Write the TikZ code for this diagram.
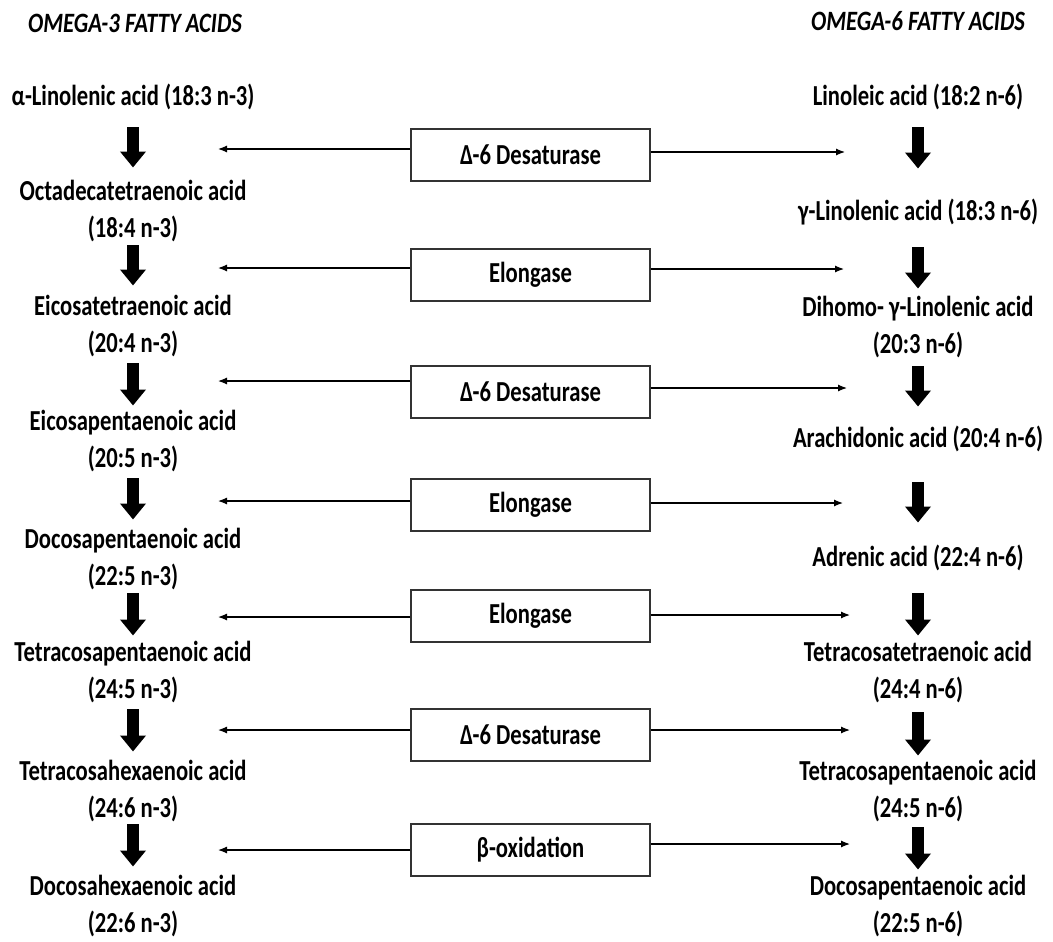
\documentclass[tikz,border=0pt]{standalone}
\usepackage{fontspec}
\setmainfont{Carlito}[FakeStretch=0.78]
\newfontfamily\headfont{Carlito}[FakeStretch=0.81]
\usetikzlibrary{arrows.meta}
\tikzset{
  acid/.style={inner sep=0pt, align=center, font=\fontsize{29}{37}\selectfont\bfseries},
  head/.style={inner sep=0pt, font=\headfont\fontsize{28}{30}\selectfont\bfseries\itshape},
  enzyme/.style={draw=black!80, line width=1.3pt, minimum width=239pt, minimum height=52pt, inner sep=0pt, font=\fontsize{29}{30}\selectfont\bfseries},
  thin/.style={line width=1.2pt, -{Latex[length=9pt,width=7pt]}},
  bigarrow/.style={line width=12pt, -{Triangle[width=25pt,length=16pt]}, shorten >=-0.5pt}
}
\begin{document}
\begin{tikzpicture}[x=1pt,y=-1pt]
\useasboundingbox (0,0) rectangle (1053,942);
% headers
\node[head] (h3) at (135,23) {OMEGA-3 FATTY ACIDS};
\node[head] (h6) at (918,21) {OMEGA-6 FATTY ACIDS};
% omega-3 column
\node[acid] (L0) at (133,97)  {α-Linolenic acid (18:3 n-3)};
\node[acid] (L1) at (133,211) {Octadecatetraenoic acid\\(18:4 n-3)};
\node[acid] (L2) at (133,326) {Eicosatetraenoic acid\\(20:4 n-3)};
\node[acid] (L3) at (133,441) {Eicosapentaenoic acid\\(20:5 n-3)};
\node[acid] (L4) at (133,559) {Docosapentaenoic acid\\(22:5 n-3)};
\node[acid] (L5) at (133,672) {Tetracosapentaenoic acid\\(24:5 n-3)};
\node[acid] (L6) at (133,791) {Tetracosahexaenoic acid\\(24:6 n-3)};
\node[acid] (L7) at (133,906) {Docosahexaenoic acid\\(22:6 n-3)};
% omega-6 column
\node[acid] (R0) at (918,97)  {Linoleic acid (18:2 n-6)};
\node[acid] (R1) at (918,212) {γ-Linolenic acid (18:3 n-6)};
\node[acid] (R2) at (918,327) {Dihomo- γ-Linolenic acid\\(20:3 n-6)};
\node[acid] (R3) at (918,439) {Arachidonic acid (20:4 n-6)};
\node[acid] (R4) at (918,558) {Adrenic acid (22:4 n-6)};
\node[acid] (R5) at (918,672) {Tetracosatetraenoic acid\\(24:4 n-6)};
\node[acid] (R6) at (918,791) {Tetracosapentaenoic acid\\(24:5 n-6)};
\node[acid] (R7) at (918,906) {Docosapentaenoic acid\\(22:5 n-6)};
% enzymes
\node[enzyme] (B1) at (530.5,155) {Δ-6 Desaturase};
\node[enzyme] (B2) at (530.5,275) {Elongase};
\node[enzyme] (B3) at (530.5,392) {Δ-6 Desaturase};
\node[enzyme] (B4) at (530.5,505) {Elongase};
\node[enzyme] (B5) at (530.5,616) {Elongase};
\node[enzyme] (B6) at (530.5,735) {Δ-6 Desaturase};
\node[enzyme] (B7) at (530.5,850) {β-oxidation};
% thin arrow end points
\coordinate (l1) at (218,149); \coordinate (r1) at (845,152);
\coordinate (l2) at (218,268); \coordinate (r2) at (844,269);
\coordinate (l3) at (218,381); \coordinate (r3) at (847,388);
\coordinate (l4) at (218,501); \coordinate (r4) at (843,503);
\coordinate (l5) at (218,617); \coordinate (r5) at (850,615);
\coordinate (l6) at (218,730); \coordinate (r6) at (850,730);
\coordinate (l7) at (218,850); \coordinate (r7) at (850,844);
\foreach \i in {1,...,7}{
  \draw[thin] (l\i -| B\i.west) -- (l\i);
  \draw[thin] (r\i -| B\i.east) -- (r\i);
}
% block arrow end points
\coordinate (la0) at (133,127); \coordinate (lb0) at (133,167);
\coordinate (la1) at (133,245); \coordinate (lb1) at (133,285);
\coordinate (la2) at (133,363); \coordinate (lb2) at (133,405);
\coordinate (la3) at (133,478); \coordinate (lb3) at (133,519);
\coordinate (la4) at (133,593); \coordinate (lb4) at (133,635);
\coordinate (la5) at (133,709); \coordinate (lb5) at (133,751);
\coordinate (la6) at (133,824); \coordinate (lb6) at (133,866);
\coordinate (ra0) at (918,127); \coordinate (rb0) at (918,168);
\coordinate (ra1) at (918,247); \coordinate (rb1) at (918,288);
\coordinate (ra2) at (918,366); \coordinate (rb2) at (918,406);
\coordinate (ra3) at (918,482); \coordinate (rb3) at (918,522);
\coordinate (ra4) at (918,593); \coordinate (rb4) at (918,635);
\coordinate (ra5) at (918,712); \coordinate (rb5) at (918,755);
\coordinate (ra6) at (918,827); \coordinate (rb6) at (918,869);
\foreach \i in {0,...,6}{
  \draw[bigarrow] (la\i) -- (lb\i);
  \draw[bigarrow] (ra\i) -- (rb\i);
}
\end{tikzpicture}
\end{document}
